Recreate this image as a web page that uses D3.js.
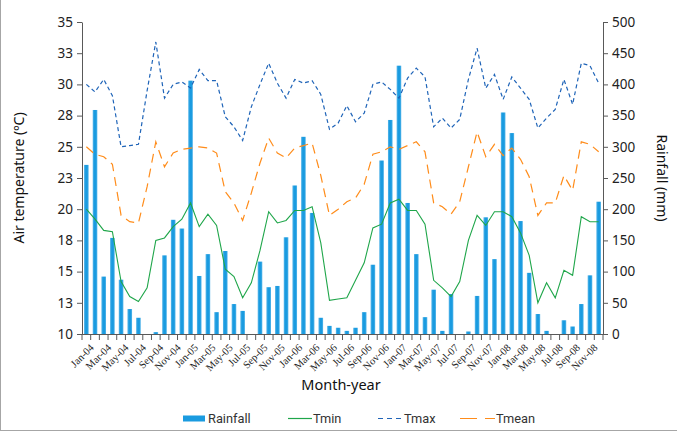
<!DOCTYPE html>
<html><head><meta charset="utf-8">
<script src="https://cdn.jsdelivr.net/npm/d3@7"></script>
<style>body{margin:0;background:#fff}svg{display:block}</style>
</head><body>
<svg id="c" width="677" height="432"></svg>
<script>
const years = ["04","05","06","07","08"];
const monthNames = ["Jan","Feb","Mar","Apr","May","Jun","Jul","Aug","Sep","Oct","Nov","Dec"];
const months = years.flatMap(y => monthNames.map(m => m + "-" + y));
const xTickLabels = months.filter((d, i) => i % 2 === 0);
const rainfall = [271,359,92,154,87,40,26,0,3,126,183,169,
  406,93,128,35,133,48,37,0,116,75,77,155,
  238,316,194,26,13,10,5,10,35,111,278,343,
  430,210,128,27,71,5,64,0,4,61,187,120,
  355,322,181,98,32,5,0,22,12,48,94,212];
const tmin = [20.0,19.2,18.3,18.2,14.2,13.0,12.6,13.7,17.5,17.7,18.6,19.2,
  20.5,18.6,19.6,18.7,15.2,14.6,12.9,14.1,16.7,19.8,18.9,19.1,
  19.9,19.9,20.2,17.3,12.7,12.8,12.9,14.3,15.7,18.5,18.8,20.5,
  20.8,19.9,19.9,18.8,14.3,13.7,13.0,14.2,17.5,19.5,18.7,19.8,
  19.8,19.4,18.1,16.3,12.5,14.1,12.9,15.1,14.7,19.4,19.0,19.0];
const tmax = [30.0,29.4,30.4,29.1,25.0,25.1,25.2,29.5,33.4,28.9,30.0,30.2,
  29.7,31.2,30.3,30.3,27.4,26.6,25.5,28.2,30.0,31.7,30.1,28.9,
  30.4,30.1,30.3,29.2,26.4,26.9,28.3,27.0,27.7,30.0,30.2,29.6,
  28.9,30.5,31.3,30.6,26.6,27.3,26.5,27.2,30.4,32.9,29.7,30.8,
  28.8,30.6,29.7,28.8,26.5,27.3,28.0,30.4,28.4,31.7,31.5,30.1];
const tmean = [25.0,24.4,24.2,23.6,19.5,19.0,18.9,21.8,25.4,23.4,24.5,24.8,
  24.9,25.0,24.9,24.5,21.4,20.5,19.1,21.3,23.7,25.7,24.5,24.1,
  24.9,25.1,25.3,22.7,19.5,20.0,20.6,20.9,22.0,24.4,24.6,25.0,
  24.8,25.1,25.4,24.6,20.5,20.2,19.6,20.6,23.4,26.2,24.2,25.2,
  24.3,24.9,24.0,22.6,19.5,20.5,20.5,22.7,21.5,25.4,25.2,24.6];
const tempTicks = [10,12.5,15,17.5,20,22.5,25,27.5,30,32.5,35];
const tempTickLabels = ["10","13","15","18","20","23","25","28","30","33","35"];
const rainTicks = [0,50,100,150,200,250,300,350,400,450,500];

const svg = d3.select("#c");
const L = 82, R = 603, T = 22, B = 334;
const axisColor = "#595959";
const x = d3.scaleBand().domain(months).range([L, R]).padding(0);
const yT = d3.scaleLinear().domain([10, 35]).range([B, T]);
const yR = d3.scaleLinear().domain([0, 500]).range([B, T]);

// frame
svg.append("line").attr("x1",0.5).attr("x2",0.5).attr("y1",0).attr("y2",430).attr("stroke","#a6a6a6").attr("stroke-width",1);
svg.append("line").attr("x1",0).attr("x2",677).attr("y1",430.5).attr("y2",430.5).attr("stroke","#a6a6a6").attr("stroke-width",1);

// bars
const defs = svg.append("defs");
const grad = defs.append("linearGradient").attr("id","bg").attr("x1","0").attr("x2","1");
grad.append("stop").attr("offset","0%").attr("stop-color","#5ab7ea");
grad.append("stop").attr("offset","35%").attr("stop-color","#1a9be0");
grad.append("stop").attr("offset","70%").attr("stop-color","#1a9be0");
grad.append("stop").attr("offset","100%").attr("stop-color","#5ab7ea");
const bw = 4.6;
svg.append("g").selectAll("rect").data(rainfall).join("rect")
  .attr("x", (d,i) => x(months[i]) + x.bandwidth()/2 - bw/2)
  .attr("y", d => yR(d))
  .attr("width", bw)
  .attr("height", d => B - yR(d))
  .attr("fill", "url(#bg)");

// lines
const cx = i => x(months[i]) + x.bandwidth()/2;
function drawLine(data, color, dash, w) {
  const line = d3.line().x((d,i) => cx(i)).y(d => yT(d));
  svg.append("path").datum(data).attr("d", line).attr("fill","none")
    .attr("stroke", color).attr("stroke-width", w).attr("stroke-dasharray", dash);
}
drawLine(tmin, "#1fa64a", null, 1.1);
drawLine(tmax, "#1f64b8", "4,3", 1.2);
drawLine(tmean, "#ff8c1a", "9,6", 1.2);

// axes
const fontTick = "'Noto Sans', sans-serif";
const gL = svg.append("g").attr("transform", `translate(${L},0)`)
  .call(d3.axisLeft(yT).tickValues(tempTicks).tickFormat((d,i) => tempTickLabels[i]).tickSize(5).tickSizeOuter(0));
const gR = svg.append("g").attr("transform", `translate(${R},0)`)
  .call(d3.axisRight(yR).tickValues(rainTicks).tickSize(5).tickSizeOuter(0));
[gL, gR].forEach(g => {
  g.selectAll("path,line").attr("stroke", axisColor);
  g.selectAll("text").attr("font-family", fontTick).attr("font-size", 13.5).attr("fill", "#222");
});
gL.selectAll("text").attr("x", -9);
gR.selectAll("text").attr("x", 9);

// x axis with ticks between categories
const gX = svg.append("g").attr("transform", `translate(0,${B})`);
gX.append("line").attr("x1", L).attr("x2", R).attr("y1", 0.5).attr("y2", 0.5).attr("stroke", axisColor);
const bounds = months.map(m => x(m)).concat([R]);
gX.selectAll("line.t").data(bounds).join("line").attr("class","t")
  .attr("x1", d => d).attr("x2", d => d).attr("y1", 0).attr("y2", 6).attr("stroke", axisColor);
gX.selectAll("text").data(xTickLabels).join("text")
  .attr("transform", d => `translate(${x(d) + x.bandwidth()/2 + 3},${9}) rotate(-45)`)
  .attr("text-anchor", "end").attr("dy", "0.7em")
  .attr("font-family", "'Liberation Serif', 'DejaVu Serif', serif").attr("font-size", 10.5).attr("fill", "#222")
  .text(d => d);

// axis titles
const fontTitle = "'Noto Sans', sans-serif";
svg.append("text").attr("transform", "translate(24,178) rotate(-90)").attr("text-anchor","middle")
  .attr("font-family", fontTitle).attr("font-size", 14).attr("fill","#111").text("Air temperature (ºC)");
svg.append("text").attr("transform", "translate(657,178) rotate(90)").attr("text-anchor","middle")
  .attr("font-family", fontTitle).attr("font-size", 14).attr("fill","#111").text("Rainfall (mm)");
svg.append("text").attr("x", 341).attr("y", 390).attr("text-anchor","middle")
  .attr("font-family", fontTitle).attr("font-size", 14.5).attr("fill","#111").text("Month-year");

// legend
const lg = svg.append("g").attr("font-family", "Roboto, sans-serif").attr("font-size", 12.8).attr("fill", "#333");
lg.append("rect").attr("x",183).attr("y",415.5).attr("width",22).attr("height",6).attr("fill","#1a9be0");
lg.append("text").attr("x",208).attr("y",423).text("Rainfall");
lg.append("line").attr("x1",288).attr("x2",312).attr("y1",418.5).attr("y2",418.5).attr("stroke","#1fa64a").attr("stroke-width",1.2);
lg.append("text").attr("x",313).attr("y",423).text("Tmin");
lg.append("line").attr("x1",378).attr("x2",403).attr("y1",418.5).attr("y2",418.5).attr("stroke","#1f64b8").attr("stroke-width",1.2).attr("stroke-dasharray","5,4");
lg.append("text").attr("x",404).attr("y",423).text("Tmax");
lg.append("line").attr("x1",460).attr("x2",495).attr("y1",418.5).attr("y2",418.5).attr("stroke","#ff8c1a").attr("stroke-width",1.2).attr("stroke-dasharray","17,8");
lg.append("text").attr("x",496).attr("y",423).text("Tmean");
</script>
</body></html>
